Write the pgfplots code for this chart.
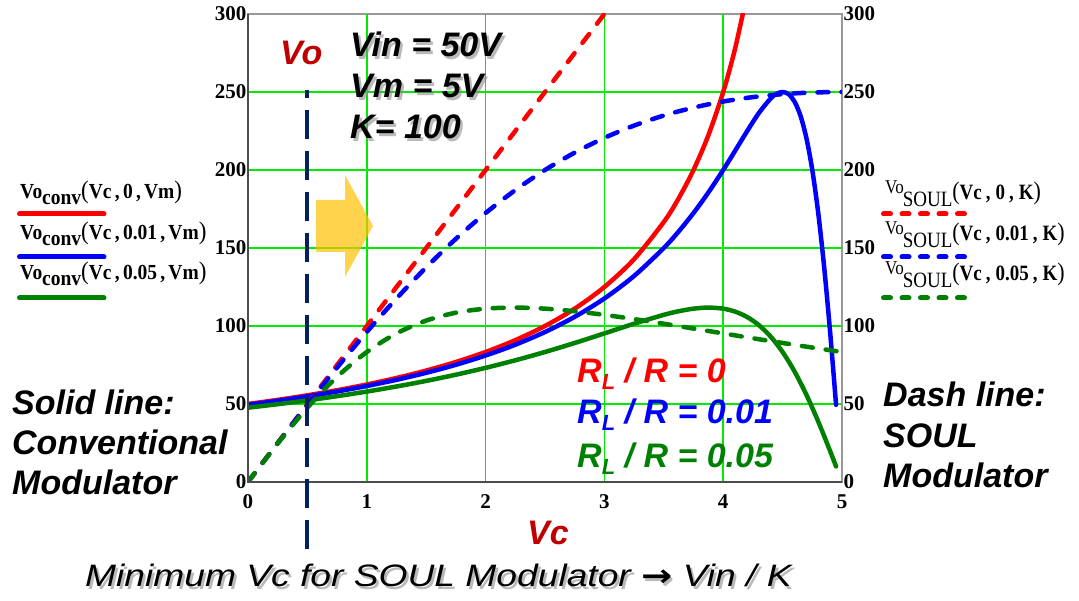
\documentclass[border=0pt]{standalone}
\usepackage{pgfplots}
\pgfplotsset{compat=1.18}
\usepackage{fontspec}
\setmainfont{Liberation Serif}
\newfontfamily\arial{Liberation Sans}
\newfontfamily\dejavu{DejaVu Sans}

\definecolor{gridgreen}{RGB}{0,235,0}
\definecolor{cred}{RGB}{255,0,0}
\definecolor{cblue}{RGB}{0,0,255}
\definecolor{cgreen}{RGB}{0,128,0}
\definecolor{navy}{RGB}{0,32,96}
\definecolor{darkred}{RGB}{192,0,0}
\definecolor{arrowyellow}{RGB}{255,192,0}

\tikzset{
  big/.style={font=\arial\bfseries\itshape\fontsize{34}{40}\selectfont, inner sep=0pt, anchor=base west},
  solidcurve/.style={line width=4.5pt, line join=round, line cap=round},
  dashcurve/.style={line width=4.5pt, line join=round, line cap=round, dash pattern=on 11pt off 13pt},
  gridline/.style={draw=gridgreen, line width=1.5pt},
}
\newcommand{\shadowed}[3]{%
  \node[big, text=black!45, opacity=0.6] at (#1+2.5,#2+2.5) {#3};
  \node[big] at (#1,#2) {#3};}
\newcommand{\bottomnote}{\scalebox{1.2}[1]{Minimum Vc for SOUL Modulator {\dejavu\bfseries\upshape →} Vin / K}}

\pgfplotsset{
  common/.style={
    scale only axis, width=594pt, height=468pt,
    at={(0,0)}, anchor=south west,
    xmin=0, xmax=5, ymin=0, ymax=300,
    xtick={0,1,2,3,4,5}, ytick={0,50,100,150,200,250,300},
    major tick length=0pt,
    /pgf/number format/assume math mode=true,
    ticklabel style={font=\fontsize{21}{21}\selectfont\bfseries},
  },
}

\begin{document}
\begin{tikzpicture}
% canvas in pixel units: (0,0) top left, y downwards
\begin{scope}[shift={(-248pt,482pt)}, x=1pt, y=-1pt]
  \path[use as bounding box] (0,0) rectangle (1079,601);
\end{scope}

\begin{axis}[common,
    axis line style={draw=black!40, line width=1.5pt},
    yticklabel style={inner xsep=1.5pt},
    xticklabel style={yshift=-9pt},
  ]
  % grid
  \pgfplotsinvokeforeach{1,2,3,4}{\draw[gridline] (axis cs:#1,0) -- (axis cs:#1,300);}
  \pgfplotsinvokeforeach{50,100,150,200,250}{\draw[gridline] (axis cs:0,#1) -- (axis cs:5,#1);}

  % conventional modulator, Vo_conv(Vc, RL/R, Vm)
  \addplot[cred, solidcurve, smooth] coordinates {
    (0,50) (0.25,52.63) (0.5,55.56) (0.75,58.82) (1,62.5) (1.25,66.67)
    (1.5,71.43) (1.75,76.92) (2,83.33) (2.25,90.91) (2.5,100) (2.75,111.11)
    (3,125) (3.25,142.86) (3.5,166.67) (3.625,181.82) (3.75,200)
    (3.875,222.22) (4,250) (4.1,277.78) (4.2,312.5)};
  \addplot[cblue, solidcurve, smooth] coordinates {
    (0,49.50) (0.25,52.05) (0.5,54.88) (0.75,58.02) (1,61.54) (1.25,65.50)
    (1.5,70.00) (1.75,75.14) (2,81.08) (2.25,88.00) (2.5,96.15) (2.75,105.88)
    (3,117.65) (3.25,132.08) (3.5,150) (3.625,160.58) (3.75,172.41)
    (3.875,185.57) (4,200) (4.1,212.26) (4.2,224.72) (4.3,236.49)
    (4.4,245.90) (4.45,248.87) (4.5,250) (4.55,248.62) (4.6,243.90)
    (4.65,234.90) (4.7,220.59) (4.75,200) (4.8,172.41) (4.85,137.61)
    (4.9,96.15) (4.95,49.50)};
  \addplot[cgreen, solidcurve, smooth] coordinates {
    (0,47.62) (0.25,49.87) (0.5,52.33) (0.75,55.02) (1,57.97) (1.25,61.22)
    (1.5,64.81) (1.75,68.78) (2,73.17) (2.25,78.01) (2.5,83.33) (2.75,89.11)
    (3,95.24) (3.25,101.45) (3.5,107.14) (3.625,109.45) (3.75,111.11)
    (3.875,111.80) (4,111.11) (4.1,109.22) (4.2,105.82) (4.3,100.57)
    (4.4,93.17) (4.5,83.33) (4.6,70.92) (4.7,55.97) (4.8,38.76)
    (4.9,19.84) (4.95,9.98)};
  % SOUL modulator, Vo_SOUL(Vc, RL/R, K)
  \addplot[cred, dashcurve] coordinates {(0,0) (3.05,305)};
  \addplot[cblue, dashcurve, smooth] coordinates {
    (0,0) (0.25,24.94) (0.5,49.50) (0.75,73.35) (1,96.15) (1.25,117.65)
    (1.5,137.61) (1.75,155.90) (2,172.41) (2.25,187.11) (2.5,200)
    (2.75,211.13) (3,220.59) (3.25,228.47) (3.5,234.90) (3.75,240)
    (4,243.90) (4.25,246.73) (4.5,248.62) (4.75,249.67) (5,250)};
  \addplot[cgreen, dashcurve, smooth] coordinates {
    (0,0) (0.25,24.69) (0.5,47.62) (0.75,67.42) (1,83.33) (1.25,95.24)
    (1.5,103.45) (1.75,108.53) (2,111.11) (2.25,111.80) (2.5,111.11)
    (2.75,109.45) (3,107.14) (3.25,104.42) (3.5,101.45) (3.75,98.36)
    (4,95.24) (4.25,92.14) (4.5,89.11) (4.75,86.17) (5,83.33)};
\end{axis}

% right-hand tick labels, darker left/bottom frame and the Vin/K marker
\begin{axis}[common,
    clip=false,
    axis y line*=right,
    hide x axis,
    xtick=\empty,
    axis line style={draw=none},
    yticklabel style={inner xsep=1.5pt},
  ]
  \draw[black!70, line width=2pt] (rel axis cs:0,1) -- (rel axis cs:0,0) -- (rel axis cs:1,0);
  \addplot[navy, line width=4pt, dash pattern=on 29pt off 12pt] coordinates {(0.5,-43) (0.5,251)};
\end{axis}

\begin{scope}[shift={(-248pt,482pt)}, x=1pt, y=-1pt]
  % direction arrow
  \fill[arrowyellow, opacity=0.7] (316,200) -- (345,200) -- (345,175) -- (373,226)
     -- (345,277) -- (345,252) -- (316,252) -- cycle;

  % axis names
  \node[big, text=darkred] at (280,65) {Vo};
  \node[big, text=darkred] at (527,545) {Vc};

  % parameters
  \shadowed{350}{57}{Vin = 50V}
  \shadowed{350}{98}{Vm = 5V}
  \shadowed{350}{139}{K= 100}

  % load ratio labels
  \node[big, text=cred]   at (577,383) {R\raisebox{-7pt}{\fontsize{22}{22}\selectfont L} / R = 0};
  \node[big, text=cblue]  at (577,424) {R\raisebox{-7pt}{\fontsize{22}{22}\selectfont L} / R = 0.01};
  \node[big, text=cgreen] at (577,468) {R\raisebox{-7pt}{\fontsize{22}{22}\selectfont L} / R = 0.05};

  % side notes
  \node[big] at (12,415) {Solid line:};
  \node[big] at (12,455) {Conventional};
  \node[big] at (12,495) {Modulator};
  \node[big] at (883,407) {Dash line:};
  \node[big] at (883,448) {SOUL};
  \node[big] at (883,488) {Modulator};

  % bottom note
  \node[font=\arial\itshape\fontsize{31}{36}\selectfont, text=black!45, opacity=0.6, inner sep=0pt, anchor=base west]
     at (87.5,589.5) {\bottomnote};
  \node[font=\arial\itshape\fontsize{31}{36}\selectfont, inner sep=0pt, anchor=base west]
     at (85,587) {\bottomnote};

  % legend, conventional
  \foreach \yy/\txt in {199/0, 240/0.01, 280/0.05} {
    \node[inner sep=0pt, anchor=base west] at (20,\yy) {\scalebox{1}[1.1]{\fontsize{19.5}{19.5}\selectfont\bfseries
      Vo\raisebox{-5pt}{conv}{\mdseries\fontsize{23}{23}\selectfont(}Vc\,,\,\txt\,,\,Vm{\mdseries\fontsize{23}{23}\selectfont)}}};
  }
  \draw[cred,   line width=5pt, line cap=round] (19.5,214) -- (104,214);
  \draw[cblue,  line width=5pt, line cap=round] (19.5,257) -- (104,257);
  \draw[cgreen, line width=5pt, line cap=round] (19.5,298) -- (104,298);

  % legend, SOUL
  \foreach \yy/\txt in {200/0, 241/0.01, 281/0.05} {
    \node[inner sep=0pt, anchor=base west] at (885,\yy) {\scalebox{1}[1.15]{%
      \raisebox{6pt}{\fontsize{17}{17}\selectfont Vo}\kern-1pt\raisebox{-6pt}{\fontsize{19}{19}\selectfont SOUL}%
      {\fontsize{22}{22}\selectfont(}{\fontsize{19}{19}\selectfont\bfseries Vc\kern4pt,\kern5pt\txt\kern4pt,\kern5pt K}{\fontsize{22}{22}\selectfont)}}};
  }
  \draw[cred,   line width=5pt, line cap=round, dash pattern=on 7pt off 11.5pt] (883.5,214) -- (968,214);
  \draw[cblue,  line width=5pt, line cap=round, dash pattern=on 7pt off 11.5pt] (883.5,257) -- (968,257);
  \draw[cgreen, line width=5pt, line cap=round, dash pattern=on 7pt off 11.5pt] (883.5,298) -- (968,298);
\end{scope}
\end{tikzpicture}
\end{document}
